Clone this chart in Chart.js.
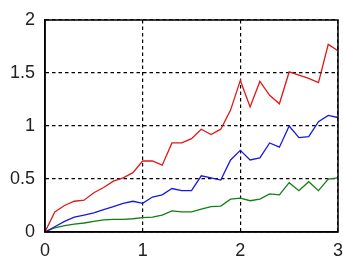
<!DOCTYPE html>
<html>
<head>
<meta charset="utf-8">
<script src="https://cdn.jsdelivr.net/npm/chart.js@4"></script>
<style>
  html, body { margin: 0; padding: 0; background: #fff; }
  #wrap { width: 343px; height: 265px; }
</style>
</head>
<body>
<div id="wrap"><canvas id="chart"></canvas></div>
<script>
const xs = [0, 0.1, 0.2, 0.3, 0.4, 0.5, 0.6, 0.7, 0.8, 0.9, 1.0, 1.1, 1.2, 1.3, 1.4, 1.5,
            1.6, 1.7, 1.8, 1.9, 2.0, 2.1, 2.2, 2.3, 2.4, 2.5, 2.6, 2.7, 2.8, 2.9, 3.0];
const redVals = [0, 0.19, 0.25, 0.29, 0.30, 0.37, 0.42, 0.48, 0.51, 0.56, 0.67, 0.67, 0.63, 0.84, 0.84, 0.88,
                 0.97, 0.92, 0.97, 1.15, 1.43, 1.18, 1.42, 1.29, 1.21, 1.51, 1.48, 1.45, 1.41, 1.77, 1.71];
const blueVals = [0, 0.05, 0.10, 0.14, 0.16, 0.18, 0.21, 0.24, 0.27, 0.29, 0.27, 0.33, 0.35, 0.41, 0.39, 0.39,
                  0.53, 0.51, 0.49, 0.68, 0.77, 0.68, 0.70, 0.84, 0.80, 1.00, 0.89, 0.90, 1.04, 1.10, 1.08];
const greenVals = [0, 0.04, 0.06, 0.075, 0.085, 0.10, 0.115, 0.12, 0.12, 0.125, 0.135, 0.14, 0.16, 0.20, 0.19, 0.19,
                   0.215, 0.24, 0.245, 0.31, 0.32, 0.295, 0.31, 0.36, 0.35, 0.465, 0.39, 0.475, 0.39, 0.50, 0.51];

function pts(vals) {
  return xs.map((x, i) => ({ x: x, y: vals[i] }));
}

// solid black box round the plot area
const boxPlugin = {
  id: 'box',
  afterDraw(chart) {
    const a = chart.chartArea;
    const ctx = chart.ctx;
    ctx.save();
    ctx.strokeStyle = '#000';
    ctx.lineWidth = 1.5;
    ctx.setLineDash([]);
    ctx.strokeRect(a.left, a.top, a.right - a.left, a.bottom - a.top);
    ctx.restore();
  }
};

const tickFont = { family: 'Liberation Sans, Arial, sans-serif', size: 18 };

new Chart(document.getElementById('chart'), {
  type: 'line',
  data: {
    datasets: [
      { data: pts(redVals), borderColor: '#e01818', borderWidth: 1.3 },
      { data: pts(blueVals), borderColor: '#1818e0', borderWidth: 1.3 },
      { data: pts(greenVals), borderColor: '#108010', borderWidth: 1.3 }
    ]
  },
  options: {
    responsive: true,
    maintainAspectRatio: false,
    animation: false,
    events: [],
    layout: { padding: { top: 20, right: 5, left: 0, bottom: 0 } },
    elements: { point: { radius: 0 }, line: { tension: 0 } },
    plugins: { legend: { display: false }, tooltip: { enabled: false } },
    scales: {
      x: {
        type: 'linear',
        min: 0, max: 3,
        ticks: { stepSize: 1, color: '#222', font: tickFont, padding: 8, maxRotation: 0 },
        grid: { color: '#000', lineWidth: 1.2, drawTicks: false },
        border: { display: true, color: '#000', width: 1.5, dash: [3.5, 3] },
        afterFit(s) { s.height = 33; s.paddingLeft = 0; s.paddingRight = 0; }
      },
      y: {
        min: 0, max: 2,
        ticks: { stepSize: 0.5, color: '#222', font: tickFont, padding: 10,
                 callback: v => String(v) },
        grid: { color: '#000', lineWidth: 1.2, drawTicks: false },
        border: { display: true, color: '#000', width: 1.5, dash: [3.5, 3] },
        afterFit(s) { s.width = 45; s.paddingTop = 0; s.paddingBottom = 0; }
      }
    }
  },
  plugins: [boxPlugin]
});
</script>
</body>
</html>
